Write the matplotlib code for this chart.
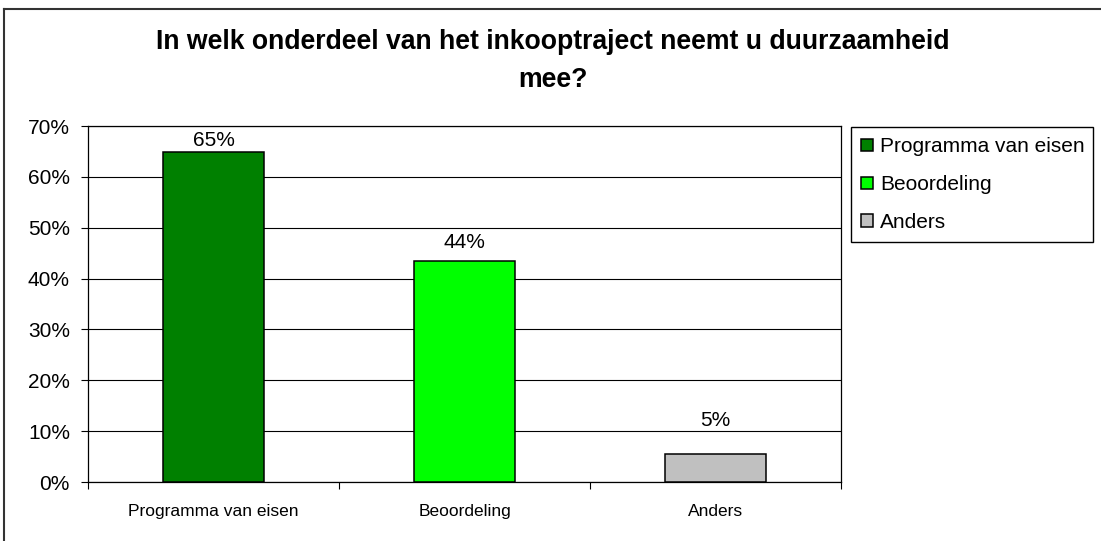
import numpy as np
import matplotlib.pyplot as plt
from matplotlib.lines import Line2D

plt.rcParams['font.family'] = ['Liberation Sans', 'DejaVu Sans']

title_lines = ["In welk onderdeel van het inkooptraject neemt u duurzaamheid", "mee?"]
categories = ["Programma van eisen", "Beoordeling", "Anders"]
values = [0.648, 0.435, 0.055]
value_labels = ["65%", "44%", "5%"]
bar_colors = ["#008000", "#00FF00", "#C0C0C0"]
y_ticks = [0.0, 0.1, 0.2, 0.3, 0.4, 0.5, 0.6, 0.7]

W, H = 1101, 541
fig = plt.figure(figsize=(W / 100, H / 100), dpi=100)

# axes placed in pixel coordinates
ax_l, ax_r, ax_t, ax_b = 88, 841, 126, 482
ax = fig.add_axes([ax_l / W, 1 - ax_b / H, (ax_r - ax_l) / W, (ax_b - ax_t) / H])

x = np.arange(len(categories))
bars = ax.bar(x, values, width=0.4, color=bar_colors, edgecolor='black',
              linewidth=1.1, zorder=3, label=categories)

# the original puts the labels higher above the small bars
label_offsets = [4.5, 9, 20]
for xi, v, lab, off in zip(x, values, value_labels, label_offsets):
    ax.annotate(lab, (xi, v), xytext=(0, off), textcoords='offset points',
                ha='center', va='baseline', fontsize=15)

ax.set_xlim(-0.5, len(categories) - 0.5)
ax.set_ylim(0, 0.7)
ax.set_yticks(y_ticks)
ax.set_yticklabels([f"{int(round(t * 100))}%" for t in y_ticks])
ax.yaxis.grid(True, color='black', linewidth=0.8, zorder=0)
ax.set_axisbelow(True)

ax.set_xticks(x)
ax.set_xticklabels(categories, fontsize=12.5)
ax.set_xticks(np.arange(len(categories) + 1) - 0.5, minor=True)
ax.tick_params(axis='x', which='major', length=0, pad=16)
ax.tick_params(axis='x', which='minor', length=5, direction='out', width=0.8)
ax.tick_params(axis='y', length=5, direction='out', width=0.8, pad=8, labelsize=15)

for s in ax.spines.values():
    s.set_color('black')
    s.set_linewidth(0.9)

# legend box on the right
lx0, lx1, ly0 = 851, 1093, 127
fig.legend(handles=bars.patches, labels=categories, loc='upper left',
           bbox_to_anchor=(lx0 / W, 0, (lx1 - lx0) / W, 1 - ly0 / H),
           mode='expand', borderaxespad=0, fontsize=15, frameon=True,
           fancybox=False, edgecolor='black', framealpha=1,
           handlelength=0.55, handleheight=0.55, handletextpad=0.35,
           labelspacing=0.9, borderpad=0.5)

# title
fig.text(0.502, 1 - 49 / H, title_lines[0], ha='center', va='baseline',
         fontsize=19.2, fontweight='bold')
fig.text(0.502, 1 - 87 / H, title_lines[1], ha='center', va='baseline',
         fontsize=19.2, fontweight='bold')

# chart area border (only left and top visible)
fig.add_artist(Line2D([4 / W, 4 / W], [0, 1 - 9 / H], transform=fig.transFigure,
                      color='#333333', linewidth=1.5))
fig.add_artist(Line2D([4 / W, 1], [1 - 9 / H, 1 - 9 / H], transform=fig.transFigure,
                      color='#333333', linewidth=1.5))

fig.savefig('out.png', dpi=100)
